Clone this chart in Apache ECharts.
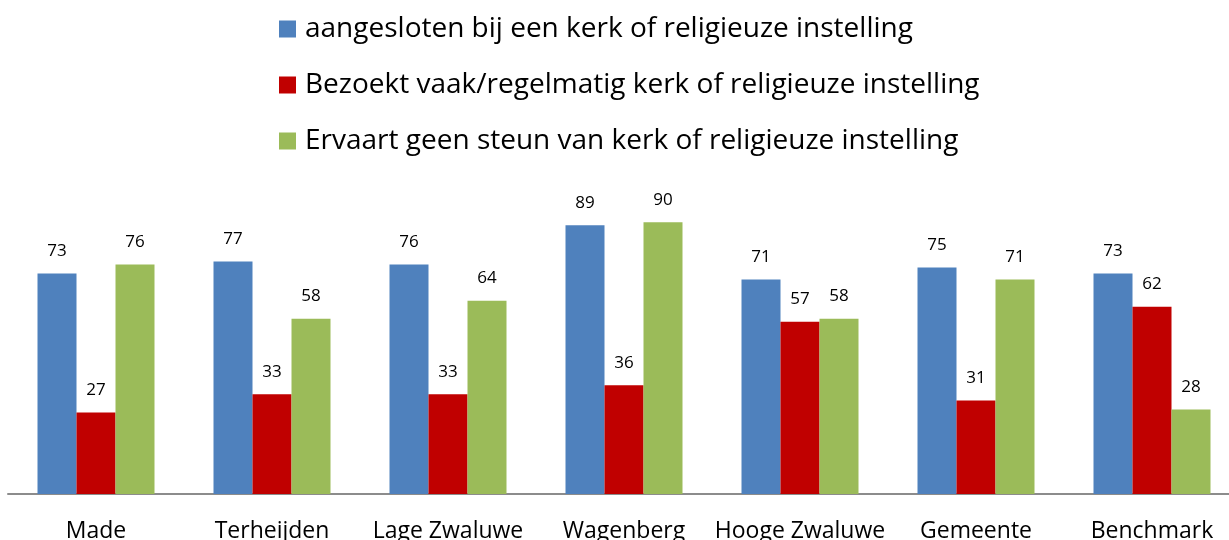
<!DOCTYPE html>
<html>
<head>
<meta charset="utf-8">
<script src="https://cdn.jsdelivr.net/npm/echarts@6/dist/echarts.min.js"></script>
<style>
	html, body { margin: 0; padding: 0; background: #fff; }
	#chart { width: 1229px; height: 540px; }
</style>
</head>
<body>
<div id="chart"></div>
<script>
const categories = ['Made', 'Terheijden', 'Lage Zwaluwe', 'Wagenberg', 'Hooge Zwaluwe', 'Gemeente', 'Benchmark'];
const seriesNames = [
	'aangesloten bij een kerk of religieuze instelling',
	'Bezoekt vaak/regelmatig kerk of religieuze instelling',
	'Ervaart geen steun van kerk of religieuze instelling'
];
const aangesloten = [73, 77, 76, 89, 71, 75, 73];
const bezoekt = [27, 33, 33, 36, 57, 31, 62];
const geenSteun = [76, 58, 64, 90, 58, 71, 28];
const colors = ['#4F81BD', '#C00000', '#9BBB59'];

const font = 'Open Sans, Noto Sans, sans-serif';

const makeSeries = (name, data, color) => {
	return {
		name: name,
		type: 'bar',
		data: data,
		barWidth: 39,
		barGap: '0%',
		itemStyle: { color: color },
		label: {
			show: true,
			position: 'top',
			distance: 14,
			color: '#000',
			fontFamily: font,
			fontSize: 17
		}
	};
};

const getOption = () => {
	return {
		animation: false,
		color: colors,
		legend: {
			orient: 'vertical',
			left: 274,
			top: 10,
			itemWidth: 17,
			itemHeight: 17,
			itemGap: 28,
			icon: 'rect',
			textStyle: { fontFamily: font, fontSize: 28, color: '#000', padding: [0, 0, 0, 4] },
			data: seriesNames
		},
		// grid runs a little past the right edge, as in the original
		grid: { left: 8, width: 1232, top: 192, height: 302, outerBoundsMode: 'none', containLabel: false },
		xAxis: {
			type: 'category',
			data: categories,
			axisLine: { lineStyle: { color: '#8c8c8c', width: 2 } },
			axisTick: { show: false },
			axisLabel: { color: '#000', fontFamily: font, fontSize: 23, margin: 26, interval: 0 }
		},
		yAxis: {
			type: 'value',
			min: 0,
			max: 100,
			show: false
		},
		series: [
			makeSeries(seriesNames[0], aangesloten, colors[0]),
			makeSeries(seriesNames[1], bezoekt, colors[1]),
			makeSeries(seriesNames[2], geenSteun, colors[2])
		]
	};
};

const chart = echarts.init(document.getElementById('chart'));
chart.setOption(getOption());
</script>
</body>
</html>
